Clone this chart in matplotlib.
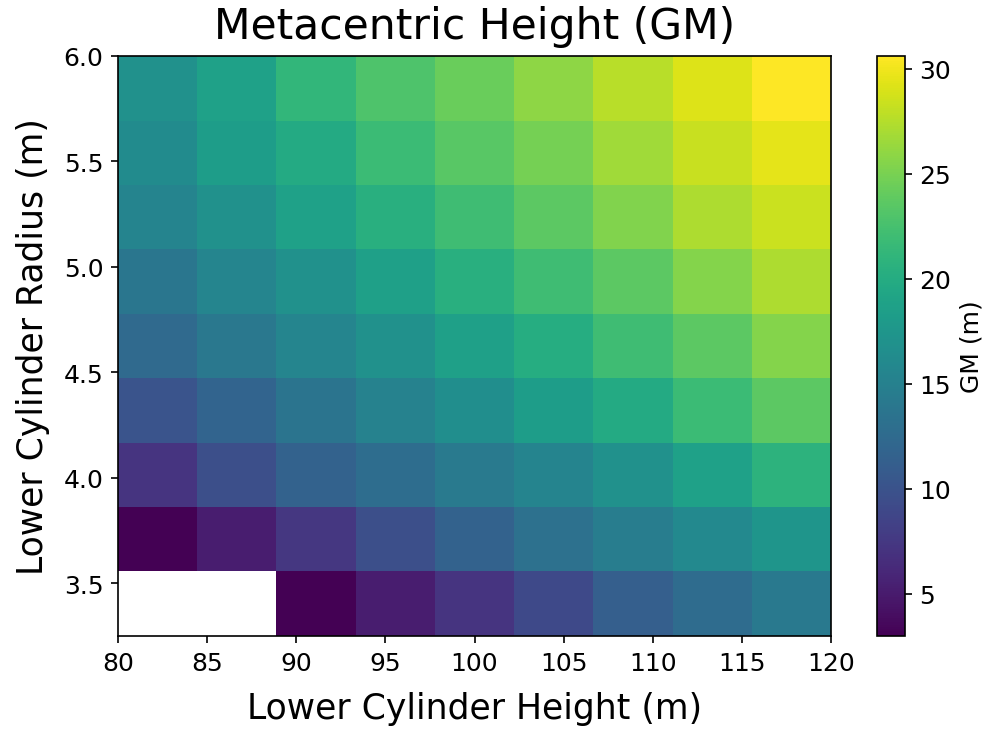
import numpy as np
import matplotlib
matplotlib.use("Agg")
import matplotlib.pyplot as plt

# Lower cylinder height (m) - cell edges along x
height_edges = [80.0, 84.44, 88.89, 93.33, 97.78, 102.22, 106.67, 111.11, 115.56, 120.0]
# Lower cylinder radius (m) - cell edges along y
radius_edges = [3.25, 3.556, 3.861, 4.167, 4.472, 4.778, 5.083, 5.389, 5.694, 6.0]

# GM values (m), rows from bottom radius (3.4) to top radius (5.85)
gm_r1 = [np.nan, np.nan, 3.0, 5.2, 7.1, 9.1, 11.3, 12.7, 14.2]
gm_r2 = [3.1, 5.2, 7.4, 9.6, 11.6, 13.2, 14.6, 16.0, 17.4]
gm_r3 = [7.1, 9.6, 11.6, 12.8, 14.3, 15.4, 16.8, 18.7, 20.7]
gm_r4 = [10.2, 11.8, 13.6, 15.1, 16.5, 18.3, 19.8, 21.8, 23.6]
gm_r5 = [12.4, 14.0, 15.6, 16.8, 18.6, 20.1, 22.0, 23.7, 25.5]
gm_r6 = [13.8, 15.6, 16.8, 18.6, 20.4, 22.0, 23.7, 25.5, 27.2]
gm_r7 = [15.4, 16.8, 18.7, 20.4, 22.0, 23.7, 25.4, 27.2, 28.4]
gm_r8 = [16.2, 18.3, 19.8, 21.8, 23.4, 24.8, 26.7, 28.3, 29.5]
gm_r9 = [16.8, 18.7, 21.2, 22.9, 24.3, 25.9, 27.6, 29.1, 30.6]

gm = np.ma.masked_invalid(np.array([gm_r1, gm_r2, gm_r3, gm_r4, gm_r5,
                                    gm_r6, gm_r7, gm_r8, gm_r9]))

W, H = 992, 730
DPI = 150
fig = plt.figure(figsize=(W / DPI, H / DPI), dpi=DPI)
ax = fig.add_axes([118 / W, 93 / H, 713 / W, 580 / H])
cax = fig.add_axes([877 / W, 93 / H, 28 / W, 580 / H])

mesh = ax.pcolormesh(height_edges, radius_edges, gm, cmap="viridis",
                     vmin=np.nanmin(gm), vmax=np.nanmax(gm))
ax.set_xlim(80, 120)
ax.set_ylim(3.25, 6.0)
ax.set_xticks([80, 85, 90, 95, 100, 105, 110, 115, 120])
ax.set_yticks([3.5, 4.0, 4.5, 5.0, 5.5, 6.0])
ax.tick_params(labelsize=12)
ax.set_xlabel("Lower Cylinder Height (m)", fontsize=16.6, labelpad=8)
ax.set_ylabel("Lower Cylinder Radius (m)", fontsize=16.6, labelpad=6.5)
ax.set_title("Metacentric Height (GM)", fontsize=20.4, pad=8.5)

cb = fig.colorbar(mesh, cax=cax)
cb.set_ticks([5, 10, 15, 20, 25, 30])
cb.ax.tick_params(labelsize=12)
cb.set_label("GM (m)", fontsize=12)

fig.savefig("out.png", dpi=DPI)
